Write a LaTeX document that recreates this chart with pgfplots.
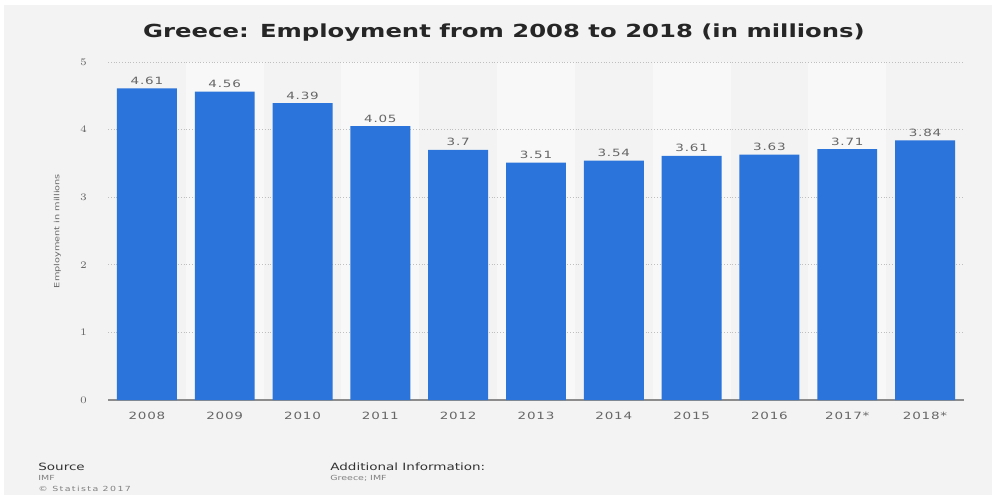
\documentclass[border=0pt]{standalone}
\usepackage{pgfplots}
\pgfplotsset{compat=1.18}
\usepackage{fontspec}
\setmainfont{DejaVu Sans}[FakeStretch=1.35]
\newfontfamily\numfont{DejaVu Sans}[FakeStretch=1.35, LetterSpace=8]
\newfontfamily\widefont{DejaVu Sans}[FakeStretch=1.35, LetterSpace=20]
\definecolor{bg}{HTML}{F3F3F3}
\definecolor{band}{HTML}{F8F8F8}
\definecolor{barblue}{HTML}{2A74DB}
\definecolor{txtgray}{HTML}{666666}
\begin{document}
\begin{tikzpicture}
\begin{axis}[
  set layers,
  at={(54pt,47.5pt)}, anchor=south west,
  scale only axis, width=428pt, height=169pt,
  xmin=-0.5, xmax=10.5, ymin=0, ymax=5,
  xtick={0,...,10},
  xticklabels={2008,2009,2010,2011,2012,2013,2014,2015,2016,2017*,2018*},
  ytick={0,1,2,3,4,5},
  axis line style={draw=none},
  axis x line*=bottom,
  tick style={draw=none},
  ymajorgrids, grid style={densely dotted, draw=black!25, line width=0.5pt},
  x axis line style={draw=black!45, line width=0.6pt},
  tick label style={font=\numfont\fontsize{5}{6}\selectfont, text=txtgray},
  yticklabel style={xshift=-7pt},
  xticklabel style={yshift=2pt},
  ylabel={Employment in millions},
  ylabel style={font=\fontsize{3.6}{4}\selectfont, text=txtgray, at={(axis description cs:0,0.5)}, yshift=20pt, anchor=south},
  ybar, bar width=0.77, bar shift=0pt,
  nodes near coords,
  nodes near coords style={font=\numfont\fontsize{5}{6}\selectfont, text=txtgray, yshift=-1.5pt},
  point meta=explicit symbolic,
  clip=false,
]
\begin{pgfonlayer}{axis background}
\fill[white] ([shift={(-54pt,-47.5pt)}]rel axis cs:0,0) rectangle ([shift={(14pt,31pt)}]rel axis cs:1,1);
\fill[bg] ([shift={(-52pt,-47.5pt)}]rel axis cs:0,0) rectangle ([shift={(14pt,28.5pt)}]rel axis cs:1,1);
\end{pgfonlayer}
\pgfplotsinvokeforeach{1,3,5,7,9}{
  \begin{pgfonlayer}{axis background}
  \fill[band] (axis cs:#1-0.5,0) rectangle (axis cs:#1+0.5,5);
  \end{pgfonlayer}
}
\addplot[fill=barblue, draw=none] table[meta=lbl] {
x y lbl
0 4.61 4.61
1 4.56 4.56
2 4.39 4.39
3 4.05 4.05
4 3.70 3.7
5 3.51 3.51
6 3.54 3.54
7 3.61 3.61
8 3.63 3.63
9 3.71 3.71
10 3.84 3.84
};
\end{axis}
\node[font=\bfseries\fontsize{9}{11}\selectfont, text=black!85] at (252pt,231pt) {Greece: Employment from 2008 to 2018 (in millions)};
\node[anchor=west, font=\fontsize{5}{6}\selectfont, text=black!80, inner sep=0] at (19pt,14pt) {Source};
\node[anchor=west, font=\fontsize{3.5}{4}\selectfont, text=black!50, inner sep=0] at (19pt,8.5pt) {IMF};
\node[anchor=west, font=\widefont\fontsize{3.5}{4}\selectfont, text=black!50, inner sep=0] at (19pt,3pt) {© Statista 2017};
\node[anchor=west, font=\fontsize{5}{6}\selectfont, text=black!80, inner sep=0] at (165pt,14pt) {Additional Information:};
\node[anchor=west, font=\fontsize{3.5}{4}\selectfont, text=black!50, inner sep=0] at (165pt,8.5pt) {Greece; IMF};
\pgfresetboundingbox
\path[use as bounding box] (0,0) rectangle (496pt,247.5pt);
\end{tikzpicture}
\end{document}
